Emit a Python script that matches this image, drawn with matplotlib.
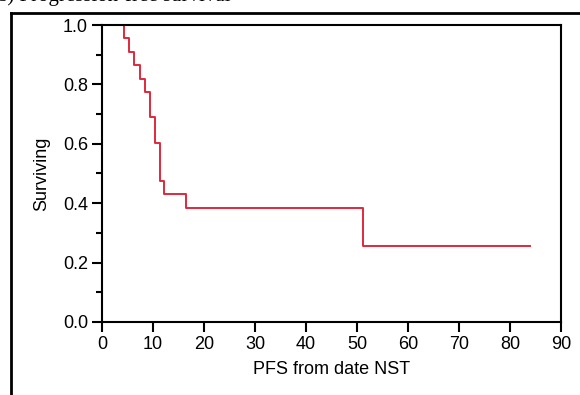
import numpy as np
import matplotlib
matplotlib.use("Agg")
import matplotlib.pyplot as plt
from matplotlib.lines import Line2D

# Kaplan-Meier step values
times = [0, 4.3, 5.3, 6.3, 7.4, 8.4, 9.4, 10.3, 11.4, 12.2, 16.4, 51.2, 84]
surv = [1.0, 0.955, 0.909, 0.864, 0.818, 0.773, 0.691, 0.604, 0.476, 0.431, 0.383, 0.255, 0.255]
xticks = [0, 10, 20, 30, 40, 50, 60, 70, 80, 90]
yticks = [0.0, 0.2, 0.4, 0.6, 0.8, 1.0]

plt.rcParams['font.family'] = ['Liberation Sans', 'DejaVu Sans']

fig = plt.figure(figsize=(5.8, 3.95), dpi=100)
ax = fig.add_axes([102 / 580, 1 - 322 / 395, (561 - 102) / 580, (322 - 25) / 395])

ax.step(times, surv, where='post', color='#e0283c', lw=1.4)

ax.set_xlim(0, 90)
ax.set_ylim(0, 1.0)
ax.set_xticks(xticks)
ax.set_xticklabels([str(t) for t in xticks])
ax.set_yticks(yticks)
ax.set_yticklabels(['%.1f' % t for t in yticks])
ax.set_yticks(np.arange(0.1, 1.0, 0.2), minor=True)

ax.tick_params(axis='both', which='major', direction='out', length=7, width=1.5,
               labelsize=13, pad=3, colors='black')
ax.tick_params(axis='y', which='minor', direction='out', length=4, width=1.5)
for s in ax.spines.values():
    s.set_linewidth(1.5)

ax.set_xlabel('PFS from date NST', fontsize=13, labelpad=6)
ax.set_ylabel('Surviving', fontsize=13, labelpad=9)

# outer panel frame (cut off at the right and bottom edges)
fig.add_artist(Line2D([11 / 580, 11 / 580], [0, 1 - 12.5 / 395], transform=fig.transFigure,
                      color='black', lw=2))
fig.add_artist(Line2D([11 / 580, 1], [1 - 12.5 / 395, 1 - 12.5 / 395], transform=fig.transFigure,
                      color='black', lw=2))

# panel caption, mostly cut off at the top as in the source
fig.text(-0.005, 1 - 1.5 / 395, 'b) Progression-free survival', fontsize=15,
         family=['Liberation Serif', 'DejaVu Serif'], va='baseline', ha='left')

fig.savefig('out.png', dpi=100)
